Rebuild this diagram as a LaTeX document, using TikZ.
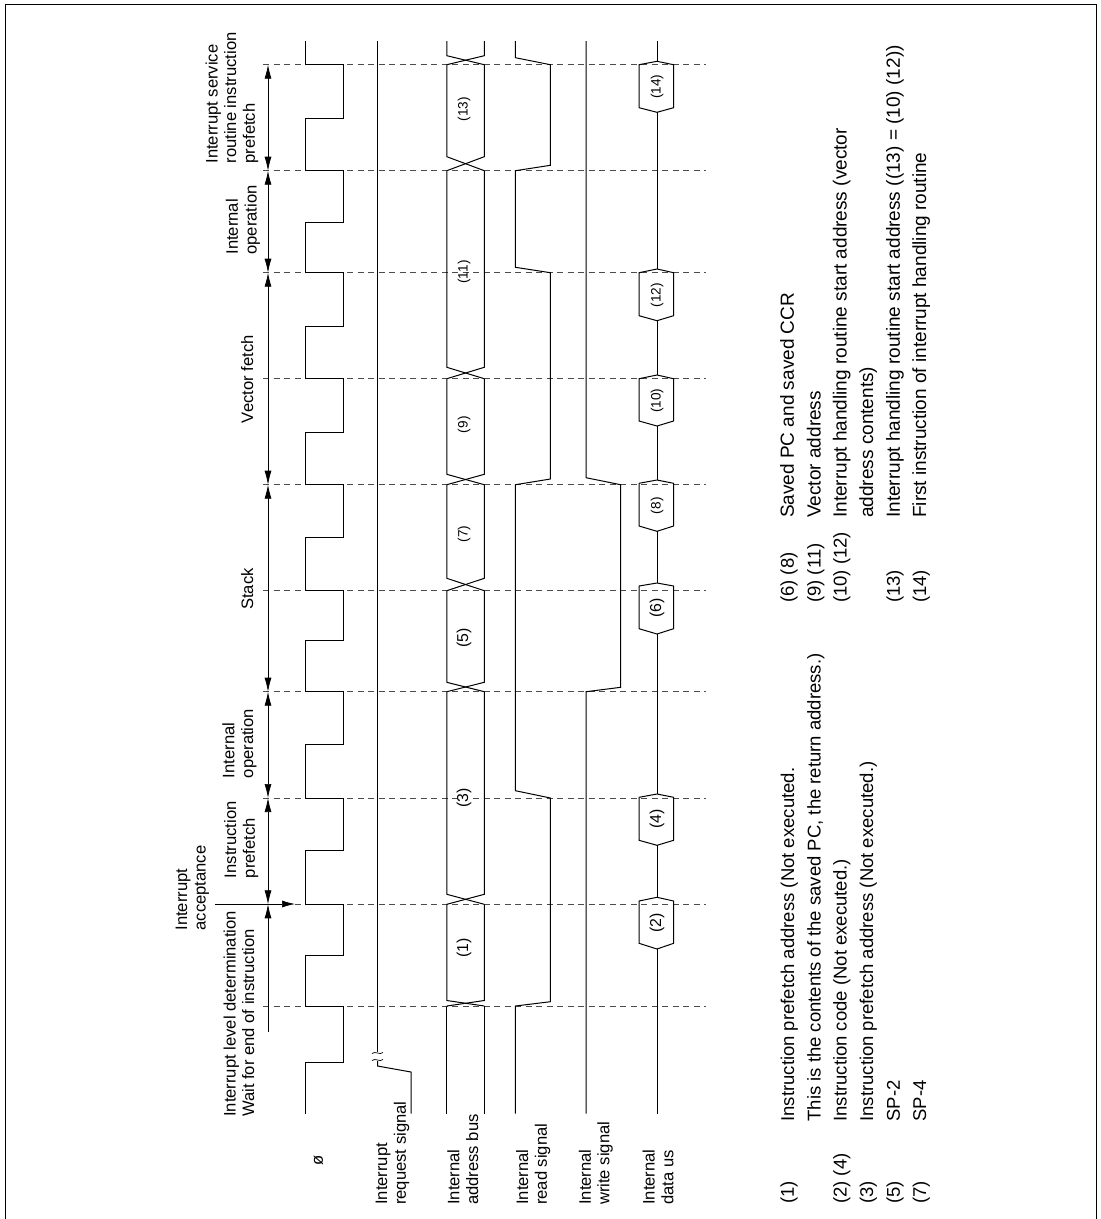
\documentclass[tikz,border=0pt]{standalone}
\usepackage{fontspec}
\setmainfont{Liberation Sans}
\usetikzlibrary{arrows.meta}
\tikzset{
  sig/.style={line width=1pt,line join=miter},
  guide/.style={line width=1pt,draw=black!70,dash pattern=on 6pt off 4.5pt},
  dim/.style={line width=0.7pt,{Latex[length=14pt,width=7pt]}-{Latex[length=14pt,width=7pt]}},
  dimup/.style={line width=0.7pt,{Latex[length=14pt,width=7pt]}-},
  toptip/.style={line width=0.7pt,-{Latex[length=13pt,width=7pt]}},
  lab/.style={rotate=90,inner sep=0pt,anchor=south west,align=left,font=\fontsize{16.6}{18.6}\selectfont},
  leg/.style={rotate=90,inner sep=0pt,anchor=south west,align=left,font=\fontsize{18.5}{26.4}\selectfont},
  legb/.style={leg,font=\fontsize{19}{26.4}\selectfont},
  numA/.style={rotate=90,inner sep=0pt,font=\fontsize{15.8}{18}\selectfont},
  numB/.style={rotate=90,inner sep=0pt,font=\fontsize{13.6}{16}\selectfont},
}
\newcommand{\lastdp}{\rule[-5pt]{0pt}{5pt}}
\begin{document}
\begin{tikzpicture}[x=1pt,y=-1pt]
\useasboundingbox (0,0) rectangle (1101,1219);
\draw[line width=1.2pt] (5.5,1219) -- (5.5,4.5) -- (1096.5,4.5) -- (1096.5,1219);

% time marks
\foreach \nm/\t in {a/64.7,b/170.7,c/272.7,d/378.7,e/484.7,f/590.7,g/691.7,h/798,i/904.3,j/1006}{
  \coordinate (gs\nm) at (263,\t);
  \coordinate (ge\nm) at (706,\t);
  \coordinate (dm\nm) at (268,\t);
  \draw[guide] (gs\nm) -- (ge\nm);
}

% dimension arrows
\draw[dim] (dma) -- (dmb);
\draw[dim] (dmb) -- (dmc);
\draw[dim] (dmc) -- (dme);
\draw[dim] (dme) -- (dmg);
\draw[dim] (dmg) -- (dmh);
\draw[dim] (dmh) -- (dmi);
\coordinate (dmend) at (268,1031.7);
\draw[dimup] (dmi) -- (dmend);
\coordinate (ias) at (215,904);
\coordinate (iat) at (295,904);
\draw[toptip] (ias) -- (iat);

% clock
\draw[sig] (305,41) -- (305,64.7) -- (343.2,64.7) -- (343.2,118) -- (305,118) -- (305,170.7) -- (343.2,170.7) -- (343.2,222.3) -- (305,222.3) -- (305,272.7) -- (343.2,272.7) -- (343.2,326.7) -- (305,326.7) -- (305,378.7) -- (343.2,378.7) -- (343.2,432.3) -- (305,432.3) -- (305,484.7) -- (343.2,484.7) -- (343.2,537) -- (305,537) -- (305,590.7) -- (343.2,590.7) -- (343.2,640.7) -- (305,640.7) -- (305,691.7) -- (343.2,691.7) -- (343.2,744) -- (305,744) -- (305,798) -- (343.2,798) -- (343.2,850.7) -- (305,850.7) -- (305,904.3) -- (343.2,904.3) -- (343.2,955) -- (305,955) -- (305,1006) -- (343.2,1006) -- (343.2,1062) -- (305,1062) -- (305,1113.7);

% interrupt request
\draw[sig] (377.5,41) -- (377.5,1052);
\draw[sig,line width=0.7pt] (372,1053.5) .. controls (375,1050.5) and (380,1055.5) .. (383,1052.5);
\draw[sig,line width=0.7pt] (372,1060.5) .. controls (375,1057.5) and (380,1062.5) .. (383,1059.5);
\draw[sig] (377.5,1061) -- (377.5,1066) -- (411,1072) -- (411,1113.7);

% address bus
\foreach \ya/\yb/\yt in {41/55.7/64.7,64.7/156.7/170.7,170.7/367.3/378.7,378.7/474.3/484.7,484.7/578.3/590.7,590.7/682.3/691.7,691.7/894.3/904.3,904.3/1000.5/1006}{
  \draw[sig] (446.8,\ya) -- (446.8,\yb) -- (484.3,\yt);
  \draw[sig] (484.3,\ya) -- (484.3,\yb) -- (446.8,\yt);
}
\draw[sig] (446.8,1006) -- (446.8,1113.7);
\draw[sig] (484.3,1006) -- (484.3,1113.7);

% read
\draw[sig] (515.4,41) -- (515.4,57.7) -- (550.4,64.7) -- (550.4,165.3) -- (515.4,170.7) -- (515.4,267.3) -- (550.4,272.7) -- (550.4,479) -- (515.4,484.7) -- (515.4,790.7) -- (550.4,798) -- (550.4,1001.7) -- (515.4,1006) -- (515.4,1113.7);
% write
\draw[sig] (586,41) -- (586,477.7) -- (620.7,484.7) -- (620.7,687.3) -- (586,691.7) -- (586,1113.7);

% data bus
\draw[sig] (657,41) -- (657,61.3);
\foreach \ya/\yb/\yc/\yd/\ynext in {61.3/64.7/107.7/112.3/269,269/272.7/315.7/320.7/375,375/378.7/421/426/480,480/483.3/526/531.3/583,583/586/628.7/634/794,794/797.3/840.3/845.3/897.3,897.3/901/943.3/949/1113.7}{
  \draw[sig] (657,\ya) -- (673.6,\yb) -- (673.6,\yc) -- (657,\yd) -- (639,\yc) -- (639,\yb) -- cycle;
  \draw[sig] (657,\yd) -- (657,\ynext);
}

% numbers on the buses
\node[numB] (n13) at (464,109) {(13)};
\node[numB] (n11) at (464,272) {(11)};
\node[numB] (n9)  at (464,424.7) {(9)};
\node[numB] (n7)  at (464,534) {(7)};
\node[numA] (n5)  at (464,638) {(5)};
\node[numA,fill=white] (n3)  at (464,797.7) {(3)};
\node[numA] (n1)  at (464,948) {(1)};
\node[numB] (n14) at (657,86.7) {(14)};
\node[numB] (n12) at (657,295) {(12)};
\node[numB] (n10) at (657,400.7) {(10)};
\node[numB] (n8)  at (657,505.7) {(8)};
\node[numA] (n6)  at (657,608.3) {(6)};
\node[numA] (n4)  at (657,819.3) {(4)};
\node[numA] (n2)  at (657,923.3) {(2)};

% phase labels: x = baseline of last line + 5
\node[lab] (p1) at (259.3,1117) {Interrupt level determination\\Wait for end of instruction\lastdp};
\node[lab] (p0) at (210.8,930.7) {Interrupt\\acceptance\lastdp};
\node[lab] (p2) at (260,878.3) {Instruction\\prefetch\lastdp};
\node[lab] (p3) at (258.2,778.3) {Internal\\operation\lastdp};
\node[lab] (p4) at (258.2,610) {Stack\lastdp};
\node[lab] (p5) at (258.2,423.3) {Vector fetch\lastdp};
\node[lab] (p6) at (261.7,254.7) {Internal\\operation\lastdp};
\node[lab] (p7) at (260,163.7) {Interrupt service\\routine instruction\\prefetch\lastdp};

% signal names
\node[rotate=90,inner sep=0pt,font=\fontsize{16.6}{18}\selectfont] (s0) at (318.6,1160) {ø};
\node[lab] (s1) at (411,1205) {Interrupt\\request signal\lastdp};
\node[lab] (s2) at (483.2,1205) {Internal\\address bus\lastdp};
\node[lab] (s3) at (552,1205) {Internal\\read signal\lastdp};
\node[lab] (s4) at (614.6,1205) {Internal\\write signal\lastdp};
\node[lab] (s5) at (678.5,1205) {Internal\\data us\lastdp};

% legend
\node[leg] (l1a) at (799,1204) {(1)\lastdp};
\node[leg] (l1b) at (825.7,1121.7) {Instruction prefetch address (Not executed.\\This is the contents of the saved PC, the return address.)\lastdp};
\node[leg] (l2a) at (851.7,1204) {(2) (4)\lastdp};
\node[leg] (l2b) at (851.7,1121.7) {Instruction code (Not executed.)\lastdp};
\node[leg] (l3a) at (878.3,1204) {(3)\lastdp};
\node[leg] (l3b) at (878.3,1121.7) {Instruction prefetch address (Not executed.)\lastdp};
\node[leg] (l5a) at (905,1204) {(5)\lastdp};
\node[leg] (l5b) at (905,1121.7) {SP-2\lastdp};
\node[leg] (l7a) at (931.3,1204) {(7)\lastdp};
\node[leg] (l7b) at (931.3,1121.7) {SP-4\lastdp};
\node[leg] (l6a) at (799,603) {(6) (8)\lastdp};
\node[legb] (l6b) at (799,518) {Saved PC and saved CCR\lastdp};
\node[leg] (l9a) at (825.7,603) {(9) (11)\lastdp};
\node[legb] (l9b) at (825.7,518) {Vector address\lastdp};
\node[leg] (l10a) at (851.7,603) {(10) (12)\lastdp};
\node[legb] (l10b) at (878.3,518) {Interrupt handling routine start address (vector\\address contents)\lastdp};
\node[leg] (l13a) at (905,603) {(13)\lastdp};
\node[legb] (l13b) at (905,518) {Interrupt handling routine start address ((13) = (10) (12))\lastdp};
\node[leg] (l14a) at (931.3,603) {(14)\lastdp};
\node[legb] (l14b) at (931.3,518) {First instruction of interrupt handling routine\lastdp};
\end{tikzpicture}
\end{document}
